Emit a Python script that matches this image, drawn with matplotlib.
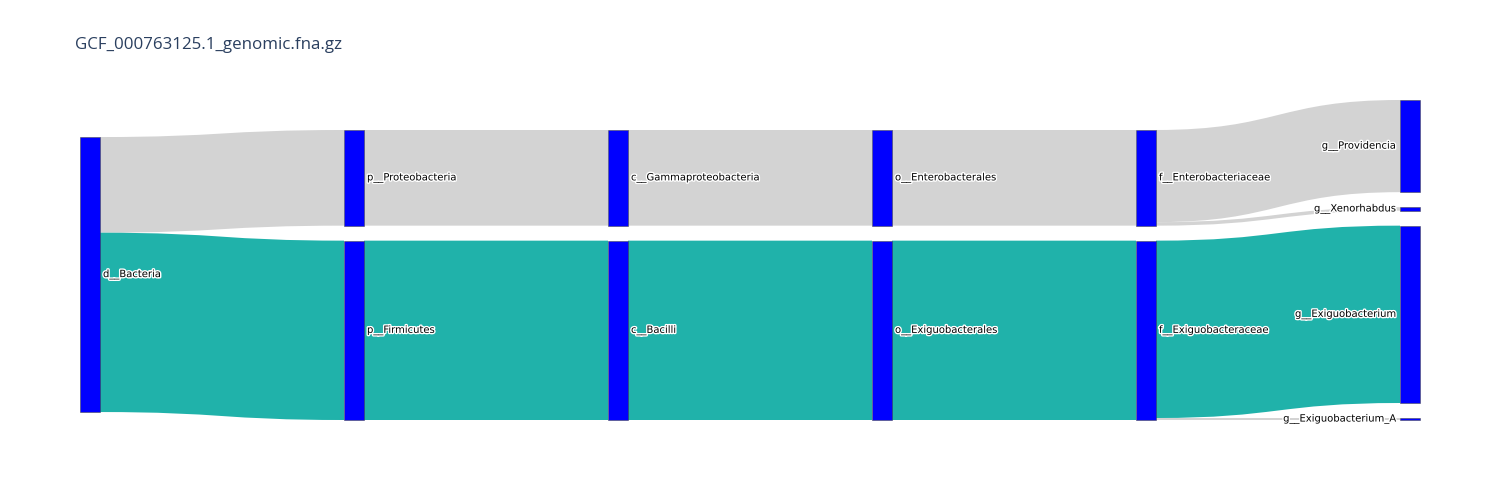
import numpy as np
import matplotlib
matplotlib.use("Agg")
import matplotlib.pyplot as plt
from matplotlib.path import Path
from matplotlib.patches import PathPatch, Rectangle
import matplotlib.patheffects as pe

# data
title = "GCF_000763125.1_genomic.fna.gz"
node_labels = ["d__Bacteria",
               "p__Proteobacteria", "p__Firmicutes",
               "c__Gammaproteobacteria", "c__Bacilli",
               "o__Enterobacterales", "o__Exiguobacterales",
               "f__Enterobacteriaceae", "f__Exiguobacteraceae",
               "g__Providencia", "g__Xenorhabdus", "g__Exiguobacterium", "g__Exiguobacterium_A"]
link_source = [0, 0, 1, 2, 3, 4, 5, 6, 7, 7, 8, 8]
link_target = [1, 2, 3, 4, 5, 6, 7, 8, 9, 10, 11, 12]
link_value = [96, 180, 96, 180, 96, 180, 96, 180, 92.5, 3.5, 178, 2]
link_color = ["lightgray", "lightseagreen", "lightgray", "lightseagreen",
              "lightgray", "lightseagreen", "lightgray", "lightseagreen",
              "lightgray", "lightgray", "lightseagreen", "lightgray"]

# layout settings (pixels)
W, H = 1500, 500
x_left, x_right = 80, 1420
y_top, y_bot = 100, 420
node_w = 20
pad = 15
iterations = 50

n = len(node_labels)
src_links = {i: [] for i in range(n)}
tgt_links = {i: [] for i in range(n)}
for k in range(len(link_value)):
    src_links[link_source[k]].append(k)
    tgt_links[link_target[k]].append(k)

# node values and depths
value = np.zeros(n)
for i in range(n):
    value[i] = max(sum(link_value[k] for k in src_links[i]), sum(link_value[k] for k in tgt_links[i]))
depth = [0] * n
changed = True
while changed:
    changed = False
    for k in range(len(link_value)):
        d = depth[link_source[k]] + 1
        if depth[link_target[k]] < d:
            depth[link_target[k]] = d
            changed = True
ncol = max(depth) + 1
columns = [[i for i in range(n) if depth[i] == c] for c in range(ncol)]
x0 = [x_left + depth[i] * (x_right - x_left - node_w) / (ncol - 1) for i in range(n)]

# d3-sankey style breadths (node order kept as given)
ky = min((y_bot - y_top - (len(col) - 1) * pad) / sum(value[i] for i in col) for col in columns)
y0 = np.zeros(n)
y1 = np.zeros(n)
for col in columns:
    for j, i in enumerate(col):
        y0[i] = j
        y1[i] = j + value[i] * ky
lw = [v * ky for v in link_value]

def center(i):
    return (y0[i] + y1[i]) / 2

def resolve():
    for col in columns:
        y = y_top
        for i in col:
            dy = y - y0[i]
            if dy > 0:
                y0[i] += dy; y1[i] += dy
            y = y1[i] + pad
        dy = y - pad - y_bot
        if dy > 0:
            last = col[-1]
            y0[last] -= dy; y1[last] -= dy
            y = y0[last]
            for i in col[-2::-1]:
                dy = y1[i] + pad - y
                if dy > 0:
                    y0[i] -= dy; y1[i] -= dy
                y = y0[i]

resolve()
alpha = 1.0
for it in range(iterations):
    alpha *= 0.99
    for col in columns[::-1]:
        for i in col:
            if src_links[i]:
                m = sum(center(link_target[k]) * link_value[k] for k in src_links[i]) / sum(link_value[k] for k in src_links[i])
                dy = (m - center(i)) * alpha
                y0[i] += dy; y1[i] += dy
    resolve()
    for col in columns:
        for i in col:
            if tgt_links[i]:
                m = sum(center(link_source[k]) * link_value[k] for k in tgt_links[i]) / sum(link_value[k] for k in tgt_links[i])
                dy = (m - center(i)) * alpha
                y0[i] += dy; y1[i] += dy
    resolve()

# link positions
ly0 = np.zeros(len(link_value))
ly1 = np.zeros(len(link_value))
for i in range(n):
    y = y0[i]
    for k in sorted(src_links[i], key=lambda k: y0[link_target[k]]):
        ly0[k] = y + lw[k] / 2
        y += lw[k]
    y = y0[i]
    for k in sorted(tgt_links[i], key=lambda k: y0[link_source[k]]):
        ly1[k] = y + lw[k] / 2
        y += lw[k]

fig = plt.figure(figsize=(15, 5), dpi=100)
ax = fig.add_axes([0, 0, 1, 1])
ax.set_xlim(0, W)
ax.set_ylim(H, 0)
ax.axis("off")

for k in range(len(link_value)):
    s, t = link_source[k], link_target[k]
    xa = x0[s] + node_w
    xb = x0[t]
    xm1 = xa + (xb - xa) * 0.5
    xm2 = xb - (xb - xa) * 0.5
    h = lw[k] / 2
    verts = [(xa, ly0[k] - h), (xm1, ly0[k] - h), (xm2, ly1[k] - h), (xb, ly1[k] - h),
             (xb, ly1[k] + h), (xm2, ly1[k] + h), (xm1, ly0[k] + h), (xa, ly0[k] + h), (xa, ly0[k] - h)]
    codes = [Path.MOVETO, Path.CURVE4, Path.CURVE4, Path.CURVE4,
             Path.LINETO, Path.CURVE4, Path.CURVE4, Path.CURVE4, Path.CLOSEPOLY]
    ax.add_patch(PathPatch(Path(verts, codes), facecolor=link_color[k], edgecolor="none", zorder=1))

halo = [pe.withStroke(linewidth=2, foreground="white")]
for i in range(n):
    ax.add_patch(Rectangle((x0[i], y0[i]), node_w, y1[i] - y0[i], facecolor="blue",
                           edgecolor="#444444", linewidth=0.36, zorder=2))
    if depth[i] == ncol - 1:
        ax.text(x0[i] - 4, center(i), node_labels[i], ha="right", va="center",
                fontsize=7.2, color="black", path_effects=halo, zorder=3)
    else:
        ax.text(x0[i] + node_w + 3, center(i), node_labels[i], ha="left", va="center",
                fontsize=7.2, color="black", path_effects=halo, zorder=3)

ax.text(75, 45, title, ha="left", va="center", fontsize=12.2, color="#2a3f5f",
        family=["Open Sans", "DejaVu Sans"])

plt.savefig("out.png", dpi=100)
